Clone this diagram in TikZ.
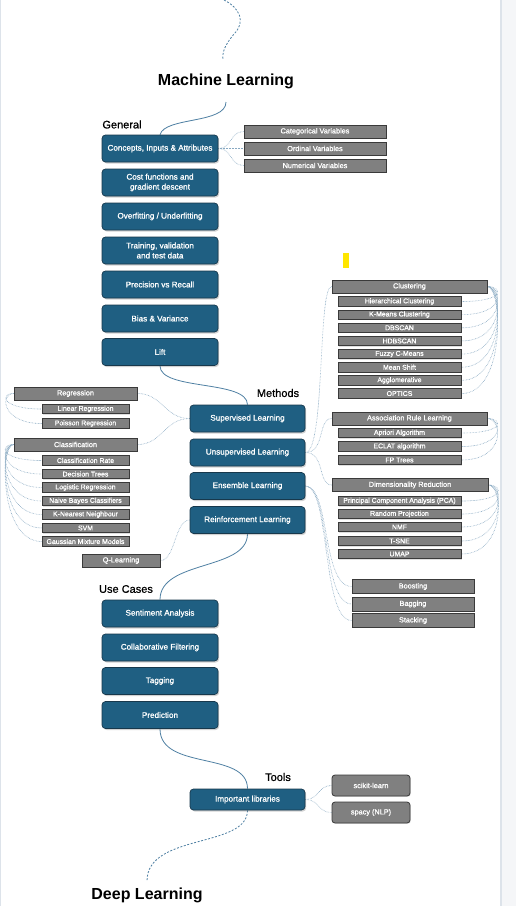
\documentclass[tikz,border=0pt]{standalone}
\usepackage{fontspec}
\setmainfont{Liberation Sans}
\newfontfamily\boxfont{Liberation Sans}[FakeBold=1.2]
\newfontfamily\secfont{Liberation Sans}[FakeBold=0.8]
\usetikzlibrary{shadows,backgrounds}
\definecolor{bfill}{HTML}{1F5F82}
\definecolor{bdark}{HTML}{17384C}
\definecolor{gfill}{HTML}{808080}
\definecolor{gdark}{HTML}{3A3A3A}
\definecolor{conn}{HTML}{4F80A3}
\definecolor{dotcol}{HTML}{88A9C2}
\definecolor{edgeline}{HTML}{DDE3EA}
\definecolor{edgefill}{HTML}{F5F6F8}
\definecolor{yelmark}{HTML}{FFE600}
\tikzset{
 bbox/.style={draw=bdark, line width=0.7pt, fill=bfill, rounded corners=3.5pt, minimum width=116pt, minimum height=27pt, text=white, font=\boxfont\fontsize{8.1}{10}\selectfont, align=center, inner sep=0pt, drop shadow={shadow xshift=1.2pt, shadow yshift=-1.5pt, opacity=0.35}},
 gbox/.style={draw=gdark, line width=0.8pt, fill=gfill, text=white, inner sep=0pt, drop shadow={shadow xshift=0.8pt, shadow yshift=-0.8pt, opacity=0.25}},
 gmain/.style={gbox, minimum height=13pt, font=\boxfont\fontsize{7.3}{8}\selectfont},
 gsub/.style={gbox, minimum height=9.5pt, font=\boxfont\fontsize{6.9}{7.5}\selectfont},
 sec/.style={font=\secfont\fontsize{11}{13}\selectfont, inner sep=0pt},
 ttl/.style={font=\bfseries\fontsize{16}{19}\selectfont, inner sep=0pt},
 link/.style={draw=conn, line width=0.8pt},
 dlink/.style={draw=conn, line width=0.8pt, dash pattern=on 2pt off 1.6pt},
 dotl/.style={draw=dotcol, line width=0.6pt, dash pattern=on 0.6pt off 0.9pt},
}
\begin{document}
\begin{tikzpicture}[x=1pt,y=-1pt]
\useasboundingbox (0,0) rectangle (516,906);

% titles and section labels
\node[ttl] (ml) at (226,81) {Machine Learning};
\node[ttl] (dl) at (147,895.5) {Deep Learning};
\node[sec] (general) at (122,124.5) {General};
\node[sec] (methods) at (278,393) {Methods};
\node[sec] (usecases) at (126,589) {Use Cases};
\node[sec] (tools) at (278,777) {Tools};
\coordinate (t0) at (224,0);
\coordinate (t1) at (223,60);
\coordinate (mls) at (226,102);
\coordinate (dlc) at (147,881);

% General
\node[bbox] (concepts) at (160,148.5) {Concepts, Inputs \& Attributes};
\node[bbox] (cost) at (160,182.5) {Cost functions and\\gradient descent};
\node[bbox] (overfit) at (160,216.5) {Overfitting / Underfitting};
\node[bbox] (train) at (160,250.5) {Training, validation\\and test data};
\node[bbox] (prec) at (160,284.5) {Precision vs Recall};
\node[bbox] (bias) at (160,318.5) {Bias \& Variance};
\node[bbox] (lift) at (160,352) {Lift};
\node[gmain, minimum width=142pt] (catv) at (315,131.5) {Categorical Variables};
\node[gmain, minimum width=142pt] (ordv) at (315,148.5) {Ordinal Variables};
\node[gmain, minimum width=142pt] (numv) at (315,165.5) {Numerical Variables};

% Methods
\node[bbox, minimum width=115pt] (sup) at (247.5,418.5) {Supervised Learning};
\node[bbox, minimum width=115pt] (unsup) at (247.5,452.5) {Unsupervised Learning};
\node[bbox, minimum width=115pt] (ens) at (247.5,486) {Ensemble Learning};
\node[bbox, minimum width=115pt] (reinf) at (247.5,520) {Reinforcement Learning};

% left side
\node[gmain, minimum width=123pt] (regr) at (75.5,393.5) {Regression};
\node[gsub, minimum width=87pt] (linr) at (85.5,409) {Linear Regression};
\node[gsub, minimum width=87pt] (poisr) at (85.5,423.5) {Poisson Regression};
\node[gmain, minimum width=123pt] (clsf) at (75.5,444.5) {Classification};
\node[gsub, minimum width=87pt] (c1) at (85.5,460.5) {Classification Rate};
\node[gsub, minimum width=87pt] (c2) at (85.5,474) {Decision Trees};
\node[gsub, minimum width=87pt] (c3) at (85.5,487.5) {Logistic Regression};
\node[gsub, minimum width=87pt] (c4) at (85.5,501) {Naive Bayes Classifiers};
\node[gsub, minimum width=87pt] (c5) at (85.5,514.5) {K-Nearest Neighbour};
\node[gsub, minimum width=87pt] (c6) at (85.5,528) {SVM};
\node[gsub, minimum width=87pt] (c7) at (85.5,541.5) {Gaussian Mixture Models};
\node[gmain, minimum width=78pt] (qlearn) at (121,560.5) {Q-Learning};

% right side
\node[gmain, minimum width=155pt] (clus) at (409.5,286.5) {Clustering};
\node[gsub, minimum width=123pt] (k1) at (399.5,301.5) {Hierarchical Clustering};
\node[gsub, minimum width=123pt] (k2) at (399.5,314.65) {K-Means Clustering};
\node[gsub, minimum width=123pt] (k3) at (399.5,327.8) {DBSCAN};
\node[gsub, minimum width=123pt] (k4) at (399.5,340.95) {HDBSCAN};
\node[gsub, minimum width=123pt] (k5) at (399.5,354.1) {Fuzzy C-Means};
\node[gsub, minimum width=123pt] (k6) at (399.5,367.25) {Mean Shift};
\node[gsub, minimum width=123pt] (k7) at (399.5,380.4) {Agglomerative};
\node[gsub, minimum width=123pt] (k8) at (399.5,393.55) {OPTICS};
\node[gmain, minimum width=155pt] (assoc) at (409.5,418.5) {Association Rule Learning};
\node[gsub, minimum width=123pt] (a1) at (399.5,433) {Apriori Algorithm};
\node[gsub, minimum width=123pt] (a2) at (399.5,446.5) {ECLAT algorithm};
\node[gsub, minimum width=123pt] (a3) at (399.5,460) {FP Trees};
\node[gmain, minimum width=156pt] (dimr) at (410,485) {Dimensionality Reduction};
\node[gsub, minimum width=123pt] (d1) at (399.5,501) {Principal Component Analysis (PCA)};
\node[gsub, minimum width=123pt] (d2) at (399.5,514) {Random Projection};
\node[gsub, minimum width=123pt] (d3) at (399.5,527) {NMF};
\node[gsub, minimum width=123pt] (d4) at (399.5,541) {T-SNE};
\node[gsub, minimum width=123pt] (d5) at (399.5,554) {UMAP};
\node[gmain, minimum width=122pt, minimum height=14pt] (boost) at (413,586.5) {Boosting};
\node[gmain, minimum width=122pt, minimum height=14pt] (bag) at (413,604) {Bagging};
\node[gmain, minimum width=122pt, minimum height=14pt] (stack) at (413,620.5) {Stacking};

% Use cases
\node[bbox] (sent) at (160,613.5) {Sentiment Analysis};
\node[bbox] (collab) at (160,647.5) {Collaborative Filtering};
\node[bbox] (tag) at (160,681) {Tagging};
\node[bbox] (pred) at (160,715) {Prediction};

% Tools
\node[bbox, minimum width=115pt, minimum height=21pt] (libs) at (247.5,799.5) {Important libraries};
\node[gbox, rounded corners=3pt, minimum width=78pt, minimum height=21pt, font=\boxfont\fontsize{7.3}{8}\selectfont] (sk) at (371,785.5) {scikit-learn};
\node[gbox, rounded corners=3pt, minimum width=78pt, minimum height=21pt, font=\boxfont\fontsize{7.3}{8}\selectfont] (spacy) at (371,812.5) {spacy (NLP)};

\begin{pgfonlayer}{background}
\fill[white] (0,0) rectangle (516,906);
\fill[edgefill] (501,0) rectangle (516,906);
\draw[edgeline, line width=1.2pt] (501,0) -- (501,906);
\draw[edgeline, line width=1pt] (0.5,0) -- (0.5,906);
\fill[yelmark] (343,253) rectangle (349,268);
\draw[dlink] (t0) .. controls (240,8) and (246,22) .. (234,34) .. controls (225,45) and (222,52) .. (t1);
\draw[link] (mls) .. controls +(0,22) and +(5,-18) .. (concepts.north);
\draw[link] (lift.south) .. controls +(0,25) and +(0,-25) .. (sup.north);
\draw[link] (reinf.south) .. controls +(0,37) and +(0,-40) .. (sent.north);
\draw[link] (pred.south) .. controls +(0,42) and +(0,-38) .. (libs.north);
\draw[dlink] (libs.south) .. controls +(0,38) and +(0,-48) .. (dlc);
\foreach \n in {catv,ordv,numv} \draw[dotl] (concepts.east) .. controls +(14,0) and +(-14,0) .. (\n.west);
\foreach \n in {regr,clsf} \draw[dotl] (sup.west) .. controls +(-25,0) and +(25,0) .. (\n.east);
\foreach \n in {linr,poisr} \draw[dotl] (regr.west) .. controls +(-14,0) and +(-40,0) .. (\n.west);
\foreach \n in {c1,c2,c3,c4,c5,c6,c7} \draw[dotl] (clsf.west) .. controls +(-14,0) and +(-42,0) .. (\n.west);
\draw[dotl] (reinf.west) .. controls +(-15,0) and +(15,0) .. (qlearn.east);
\foreach \n in {clus,assoc,dimr} \draw[dotl] (unsup.east) .. controls +(20,0) and +(-14,0) .. (\n.west);
\foreach \n in {k1,k2,k3,k4,k5,k6,k7,k8} \draw[dotl] (clus.east) .. controls +(15,0) and +(45,0) .. (\n.east);
\foreach \n in {a1,a2,a3} \draw[dotl] (assoc.east) .. controls +(15,0) and +(45,0) .. (\n.east);
\foreach \n in {d1,d2,d3,d4,d5} \draw[dotl] (dimr.east) .. controls +(15,0) and +(45,0) .. (\n.east);
\foreach \n in {boost,bag,stack} \draw[dotl] (ens.east) .. controls +(25,0) and +(-30,0) .. (\n.west);
\foreach \n in {sk,spacy} \draw[dotl] (libs.east) .. controls +(14,0) and +(-14,0) .. (\n.west);
\end{pgfonlayer}
\end{tikzpicture}
\end{document}
